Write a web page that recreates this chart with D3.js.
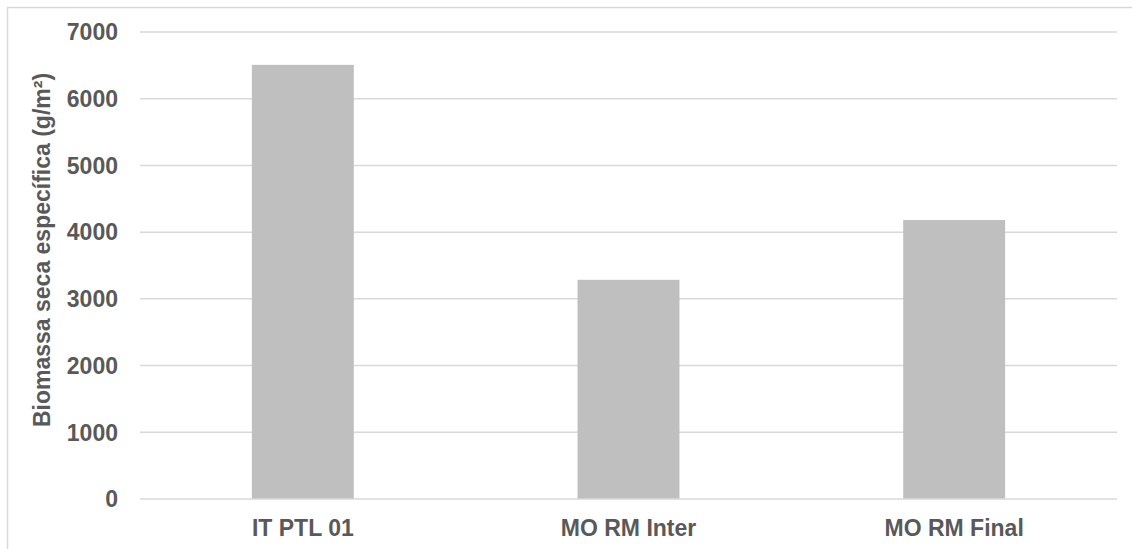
<!DOCTYPE html>
<html>
<head>
  <meta charset="utf-8">
  <title>Biomassa seca específica</title>
  <script src="https://d3js.org/d3.v7.min.js"></script>
  <style>
    body { margin: 0; background: #fff; }
    text { font-family: "Liberation Sans", Arial, sans-serif; font-weight: bold; fill: #595959; }
  </style>
</head>
<body>
  <script>
    var width = 1132;
    var height = 549;

    // dados
    var categories = ["IT PTL 01", "MO RM Inter", "MO RM Final"];
    var values = [6500, 3278, 4175];
    var yTicks = [0, 1000, 2000, 3000, 4000, 5000, 6000, 7000];
    var yTitle = "Biomassa seca específica (g/m²)";

    var margin = { left: 140, right: 15, top: 31.5, bottom: 50.5 };

    var svg = d3.select("body").append("svg").attr("width", width).attr("height", height);

    // moldura
    svg.append("rect")
      .attr("x", 7.5).attr("y", 7.5)
      .attr("width", 1300).attr("height", 700)
      .attr("fill", "none").attr("stroke", "#d9d9d9").attr("stroke-width", 1.5);

    var x = d3.scaleBand().domain(categories)
      .range([margin.left, width - margin.right])
      .paddingInner(0.687).paddingOuter(0.3435);
    var y = d3.scaleLinear().domain([0, 7000]).range([height - margin.bottom, margin.top]);

    // grade
    var yAxis = d3.axisLeft(y)
      .tickValues(yTicks)
      .tickSize(-(width - margin.right - margin.left))
      .tickPadding(22)
      .tickFormat(d3.format("d"));

    var gY = svg.append("g")
      .attr("transform", "translate(" + margin.left + ",0)")
      .call(yAxis);
    gY.select(".domain").remove();
    gY.selectAll(".tick line").attr("stroke", "#d9d9d9").attr("stroke-width", 1.5);
    gY.selectAll(".tick text").attr("font-size", 23).attr("dy", "0.36em")
      .style("font-family", "'Liberation Sans', Arial, sans-serif").style("font-weight", "bold").attr("fill", "#595959");

    // barras
    svg.selectAll("rect.bar")
      .data(values)
      .enter()
      .append("rect")
      .attr("class", "bar")
      .attr("x", function (d, i) { return x(categories[i]); })
      .attr("y", function (d) { return y(d); })
      .attr("width", x.bandwidth())
      .attr("height", function (d) { return y(0) - y(d); })
      .attr("fill", "#bfbfbf");

    // eixo x
    var xAxis = d3.axisBottom(x).tickSize(0).tickPadding(21);
    var gX = svg.append("g")
      .attr("transform", "translate(0," + y(0) + ")")
      .call(xAxis);
    gX.select(".domain").remove();
    gX.selectAll(".tick text").attr("font-size", 23)
      .style("font-family", "'Liberation Sans', Arial, sans-serif").style("font-weight", "bold").attr("fill", "#595959");

    // título do eixo y
    svg.append("text")
      .attr("transform", "translate(50,250) rotate(-90)")
      .attr("text-anchor", "middle")
      .attr("font-size", 23)
      .text(yTitle);
  </script>
</body>
</html>
